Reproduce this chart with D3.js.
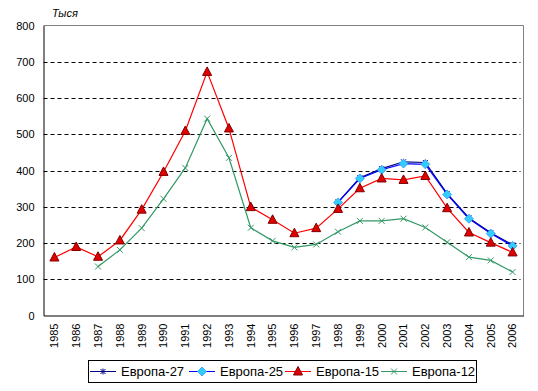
<!DOCTYPE html>
<html>
<head>
<meta charset="utf-8">
<script src="https://cdn.jsdelivr.net/npm/d3@7"></script>
<style>
  body { margin: 0; background: #fff; }
  svg { display: block; font-family: "Liberation Sans", Arial, sans-serif; }
</style>
</head>
<body>
<svg id="chart" width="538" height="391"></svg>
<script>
// Years on the category axis
const years = d3.range(1985, 2007).map(String);

// Series values (thousands), null where no data
const europe27 = [null, null, null, null, null, null, null, null, null, null, null, null, null,
  313, 380, 405, 424, 422, 336, 269, 228, 195];
const europe25 = [null, null, null, null, null, null, null, null, null, null, null, null, null,
  312, 378, 402, 419, 417, 334, 267, 226, 192];
const europe15 = [160, 189, 162, 207, 292, 396, 509, 672, 516, 299, 264, 227, 241,
  294, 351, 378, 374, 385, 296, 229, 201, 174];
const europe12 = [null, null, 135, 181, 241, 322, 407, 543, 435, 242, 206, 188, 196,
  231, 261, 261, 267, 243, 202, 161, 152, 120];

const yTicks = [0, 100, 200, 300, 400, 500, 600, 700, 800];

const series = [
  { name: 'Европа-27', values: europe27, line: '#000080', marker: 'star' },
  { name: 'Европа-25', values: europe25, line: '#0000FF', marker: 'diamond' },
  { name: 'Европа-15', values: europe15, line: '#FF0000', marker: 'triangle' },
  { name: 'Европа-12', values: europe12, line: '#339966', marker: 'cross' },
];

// plot area
const plot = { left: 43.5, top: 25.5, right: 523.5, bottom: 315.5 };

const svg = d3.select('#chart');

const x = d3.scaleBand().domain(years).range([plot.left, plot.right]);
const y = d3.scaleLinear().domain([0, 800]).range([plot.bottom, plot.top]);
const cx = (yr) => x(yr) + x.bandwidth() / 2;

// gridlines
svg.append('g')
  .selectAll('line')
  .data(yTicks.filter((t) => t > 0 && t < 800))
  .join('line')
  .attr('x1', plot.left)
  .attr('x2', plot.right - 3)
  .attr('y1', (d) => Math.round(y(d)) + 0.5)
  .attr('y2', (d) => Math.round(y(d)) + 0.5)
  .attr('stroke', '#000')
  .attr('stroke-dasharray', '4,3');

// top / right border in grey
svg.append('path')
  .attr('d', `M${plot.left},${plot.top}H${plot.right}V${plot.bottom}`)
  .attr('fill', 'none')
  .attr('stroke', '#808080');

// y axis
const yAxis = svg.append('g')
  .attr('transform', `translate(${plot.left},0)`)
  .call(d3.axisLeft(y).tickValues(yTicks).tickSize(0).tickPadding(9));
yAxis.select('.domain').attr('stroke', '#000');
yAxis.selectAll('text').attr('font-size', 11).attr('fill', '#000')
  .attr('font-family', '"Liberation Sans", Arial, sans-serif');

// x axis
const xAxis = svg.append('g')
  .attr('transform', `translate(0,${plot.bottom})`)
  .call(d3.axisBottom(x).tickSize(0));
xAxis.select('.domain').attr('stroke', '#000');
xAxis.selectAll('text')
  .attr('font-size', 11)
  .attr('fill', '#000')
  .attr('font-family', '"Liberation Sans", Arial, sans-serif')
  .attr('transform', 'rotate(-90)')
  .attr('text-anchor', 'end')
  .attr('x', -8)
  .attr('y', 0)
  .attr('dy', '0.35em');

// unit label
svg.append('text')
  .attr('x', 52)
  .attr('y', 17)
  .attr('font-size', 11)
  .attr('font-style', 'italic')
  .text('Тыся');

// marker drawing
function drawMarker(g, type, mx, my) {
  if (type === 'triangle') {
    g.append('path')
      .attr('d', `M${mx},${my - 5}L${mx + 4.5},${my + 3.5}L${mx - 4.5},${my + 3.5}Z`)
      .attr('fill', '#E00000')
      .attr('stroke', '#800000')
      .attr('stroke-width', 1);
  } else if (type === 'diamond') {
    g.append('path')
      .attr('d', `M${mx},${my - 4.5}L${mx + 4.5},${my}L${mx},${my + 4.5}L${mx - 4.5},${my}Z`)
      .attr('fill', '#33CCFF')
      .attr('stroke', '#3399FF')
      .attr('stroke-width', 0.8);
  } else if (type === 'cross') {
    g.append('path')
      .attr('d', `M${mx - 3},${my - 3}L${mx + 3},${my + 3}M${mx + 3},${my - 3}L${mx - 3},${my + 3}`)
      .attr('stroke', '#339966')
      .attr('stroke-width', 1);
  } else if (type === 'star') {
    g.append('path')
      .attr('d', `M${mx - 2.5},${my - 2.5}L${mx + 2.5},${my + 2.5}M${mx + 2.5},${my - 2.5}L${mx - 2.5},${my + 2.5}M${mx},${my - 3}V${my + 3}`)
      .attr('stroke', '#000080')
      .attr('stroke-width', 1);
  }
}

const line = d3.line()
  .defined((d) => d.v != null)
  .x((d) => cx(d.year))
  .y((d) => y(d.v));

series.forEach((s) => {
  const pts = years.map((yr, i) => ({ year: yr, v: s.values[i] }));
  const g = svg.append('g');
  g.append('path')
    .datum(pts)
    .attr('d', line)
    .attr('fill', 'none')
    .attr('stroke', s.line)
    .attr('stroke-width', 1.2);
  pts.filter((d) => d.v != null)
    .forEach((d) => drawMarker(g, s.marker, cx(d.year), y(d.v)));
});

// legend
const legend = svg.append('g');
legend.append('rect')
  .attr('x', 88.5).attr('y', 360.5)
  .attr('width', 388).attr('height', 22)
  .attr('fill', '#fff').attr('stroke', '#000');

const legendX = [90, 189, 285, 381];
series.forEach((s, i) => {
  const lx = legendX[i];
  const ly = 371.5;
  legend.append('line')
    .attr('x1', lx).attr('x2', lx + 26)
    .attr('y1', ly).attr('y2', ly)
    .attr('stroke', s.line);
  drawMarker(legend, s.marker, lx + 13, ly);
  legend.append('text')
    .attr('x', lx + 31)
    .attr('y', ly + 4.5)
    .attr('font-size', 13)
    .text(s.name);
});
</script>
</body>
</html>
